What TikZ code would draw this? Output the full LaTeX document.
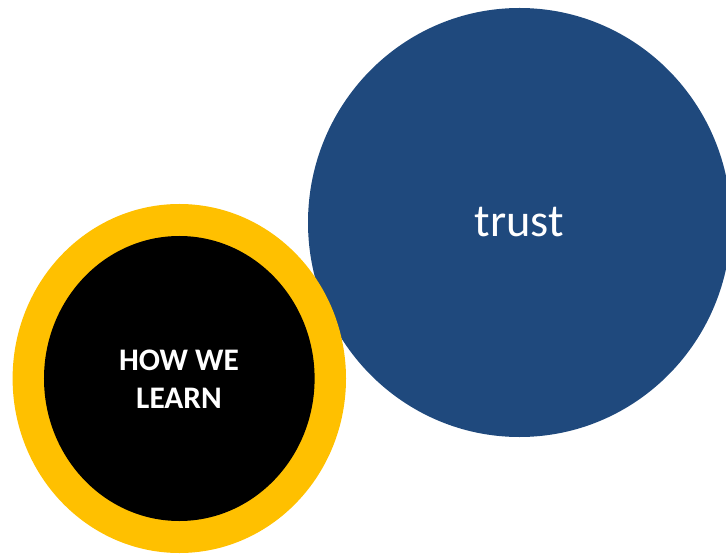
\documentclass[tikz,border=0pt]{standalone}
\usepackage{fontspec}
\setmainfont{Carlito}
\usepackage{tikz}
\usetikzlibrary{shapes.geometric}
\definecolor{trustblue}{HTML}{1F497D}
\definecolor{ringyellow}{HTML}{FFC000}

\begin{document}
\begin{tikzpicture}[x=1bp,y=-1bp,
                blob/.style n args={3}{ellipse,fill=#1,draw=none,
                    inner sep=0pt,
                    minimum width=#2bp,
                    minimum height=#3bp},
                lbl/.style={text=white,align=center}]
                \useasboundingbox (0,0) rectangle (726,554);
                \node[blob={trustblue}{423}{429}](trust) at (519.5,222.5) {};
                \node[lbl,font=\fontsize{46.5}{56}\selectfont,anchor=base] (trustlbl) at (519.5,237) {trust};
                \node[blob={ringyellow}{333.4}{349}](ring) at (179.3,378.5) {};
                \node[blob={black}{270.6}{285}](core) at (ring.center) {};
                \node[lbl,font=\bfseries\fontsize{31.5}{38}\selectfont] (corelbl) at (179,379) {HOW WE\\LEARN};
            \end{tikzpicture}
\end{document}
